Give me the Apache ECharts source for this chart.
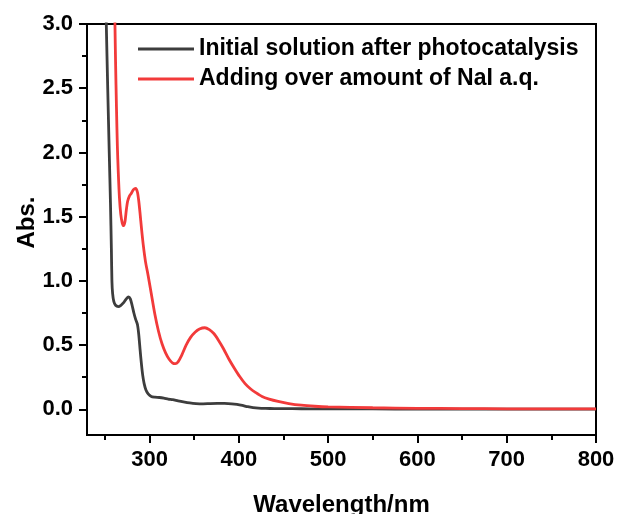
<!DOCTYPE html>
<html><head><meta charset="utf-8">
<script src="https://cdn.jsdelivr.net/npm/echarts@6/dist/echarts.min.js"></script>
<style>html,body{margin:0;padding:0;background:#fff}#c{width:619px;height:514px}</style>
</head><body><div id="c"></div>
<script>
const FONT = "Arial, 'Liberation Sans', sans-serif";
const seriesNames = ['Initial solution after photocatalysis', 'Adding over amount of NaI a.q.'];
const xMajorTicks = [300, 400, 500, 600, 700, 800];
const xMinorTicks = [250, 350, 450, 550, 650, 750];
const yMajorTicks = [0, 0.5, 1, 1.5, 2, 2.5, 3];
const yMinorTicks = [0.25, 0.75, 1.25, 1.75, 2.25, 2.75];

const blackWl = [251.0,251.6,253.2,254.9,256.3,257.3,257.9,258.7,260,262,265,268,271,274,276.5,278.5,280.5,282.5,284.5,286.5,288,289.5,291,292.5,294,296,298.5,302,306,311,316,321,326,332,338,345,352,360,368,376,384,392,398,404,410,416,422,430,440,460,480,500,550,600,650,700,750,800];
const blackAbs = [3.2,3.0,2.5,2.0,1.6,1.25,1.0,0.9,0.84,0.81,0.80,0.81,0.83,0.86,0.875,0.86,0.81,0.75,0.70,0.66,0.58,0.46,0.35,0.26,0.2,0.15,0.12,0.1,0.095,0.092,0.087,0.08,0.075,0.066,0.058,0.05,0.045,0.043,0.045,0.046,0.046,0.043,0.038,0.03,0.02,0.013,0.009,0.007,0.006,0.005,0.004,0.004,0.003,0.002,0.002,0.001,0.001,0.001];

const redWl = [261.0,261.3,262.0,263.0,264.0,265.0,266.3,267.8,269.5,271.0,272.5,274.0,275.5,277.5,279.5,282.0,284.5,286.5,288.0,289.5,291.0,293.0,295.5,298.5,302.0,306.0,310.0,314.0,318.0,322.0,326.0,329.0,332.0,336.0,341.0,346.0,351.0,356.0,362.0,367.0,372.0,377.0,383.0,389.0,395.0,401.0,407.0,413.0,419.0,426.0,434.0,444.0,456.0,470.0,485.0,500.0,550.0,600.0,650.0,700.0,750.0,800.0];
const redAbs = [3.2,3.0,2.7,2.35,2.05,1.85,1.65,1.52,1.45,1.43,1.46,1.55,1.62,1.66,1.68,1.71,1.72,1.69,1.62,1.52,1.41,1.28,1.15,1.04,0.9,0.74,0.61,0.51,0.44,0.39,0.36,0.355,0.37,0.42,0.5,0.56,0.6,0.625,0.635,0.62,0.59,0.54,0.47,0.39,0.32,0.255,0.2,0.16,0.13,0.1,0.08,0.062,0.045,0.032,0.024,0.019,0.012,0.008,0.006,0.004,0.003,0.003];

const zip = (a, b) => a.map((v, i) => [v, b[i]]);
const tickStyle = { color: '#000', width: 2 };
const labelStyle = { fontFamily: FONT, fontWeight: 'bold', fontSize: 22, color: '#000' };
const nameStyle = { fontFamily: FONT, fontWeight: 'bold', fontSize: 24, color: '#000' };

const chart = echarts.init(document.getElementById('c'), null, { renderer: 'canvas' });
chart.setOption({
  animation: false,
  backgroundColor: '#fff',
  grid: { left: 87, right: 23, top: 24, bottom: 79, show: true, borderColor: '#000', borderWidth: 2, backgroundColor: 'transparent', containLabel: false, outerBoundsMode: 'none' },
  legend: {
    data: seriesNames,
    left: 138, top: 34, padding: 0, orient: 'vertical', icon: 'rect', itemWidth: 56, itemHeight: 3, itemGap: 0,
    textStyle: { fontFamily: FONT, fontWeight: 'bold', fontSize: 23, color: '#000', lineHeight: 30 }
  },
  xAxis: [{
    type: 'value', min: 230, max: 800, position: 'bottom',
    axisLine: { show: true, onZero: false, lineStyle: tickStyle },
    axisTick: { show: true, customValues: xMajorTicks, length: 8, lineStyle: tickStyle },
    axisLabel: Object.assign({ customValues: xMajorTicks, margin: 14 }, labelStyle),
    splitLine: { show: false },
    name: 'Wavelength/nm', nameLocation: 'middle', nameGap: 58, nameMoveOverlap: false, nameTextStyle: nameStyle
  }, {
    type: 'value', min: 230, max: 800, position: 'bottom',
    axisLine: { show: false, onZero: false },
    axisTick: { show: true, customValues: xMinorTicks, length: 5, lineStyle: tickStyle },
    axisLabel: { show: false }, splitLine: { show: false }
  }],
  yAxis: [{
    type: 'value', min: -0.2, max: 3.0, position: 'left',
    axisLine: { show: true, onZero: false, lineStyle: tickStyle },
    axisTick: { show: true, customValues: yMajorTicks, length: 8, lineStyle: tickStyle },
    axisLabel: Object.assign({ customValues: yMajorTicks, margin: 14, formatter: v => v.toFixed(1) }, labelStyle),
    splitLine: { show: false },
    name: 'Abs.', nameLocation: 'middle', nameGap: 48, nameMoveOverlap: false,
    nameTextStyle: Object.assign({ padding: [0, 0, 0, 14] }, nameStyle)
  }, {
    type: 'value', min: -0.2, max: 3.0, position: 'left',
    axisLine: { show: false, onZero: false },
    axisTick: { show: true, customValues: yMinorTicks, length: 5, lineStyle: tickStyle },
    axisLabel: { show: false }, splitLine: { show: false }
  }],
  series: [{
    name: seriesNames[0], type: 'line', xAxisIndex: 0, yAxisIndex: 0,
    data: zip(blackWl, blackAbs), showSymbol: false, symbol: 'none', smooth: 0.25,
    lineStyle: { color: '#3d3d3d', width: 2.8 }, itemStyle: { color: '#3d3d3d' }, clip: true
  }, {
    name: seriesNames[1], type: 'line', xAxisIndex: 0, yAxisIndex: 0,
    data: zip(redWl, redAbs), showSymbol: false, symbol: 'none', smooth: 0.25,
    lineStyle: { color: '#f23a3a', width: 2.8 }, itemStyle: { color: '#f23a3a' }, clip: true
  }]
});
</script></body></html>
